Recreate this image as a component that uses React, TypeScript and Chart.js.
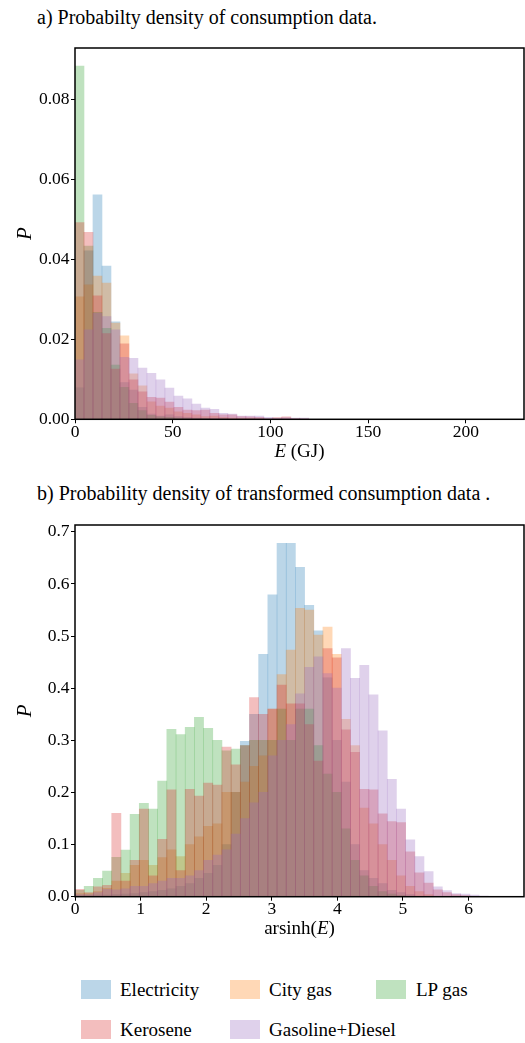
import React, { useEffect, useRef } from "react";
import { Chart, registerables } from "chart.js";

Chart.register(...registerables);

const FONT = "'Liberation Serif', 'Times New Roman', Times, serif";

const SERIES_NAMES = ["Electricity", "City gas", "LP gas", "Kerosene", "Gasoline+Diesel"];
const SERIES_RGB = ["31,119,180", "255,127,14", "44,160,44", "214,39,40", "148,103,189"];

// ---- a) consumption E (GJ), histogram bins of 4.6 GJ starting at 0
const A_BIN_WIDTH = 4.6;
const A_X_MAX = 229.7;
const A_Y_MAX = 0.093;
const A_X_TICKS = [0, 50, 100, 150, 200];
const A_Y_TICKS = [0, 0.02, 0.04, 0.06, 0.08];
const A_ELECTRICITY = [0.0079, 0.0422, 0.0562, 0.0384, 0.0244, 0.0092, 0.0073, 0.003, 0.0013, 0.0008, 0.0011, 0.0007, 0.0005, 0.0003, 0.0002, 0.0002, 0.0001, 0, 0, 0, 0, 0, 0, 0, 0, 0];
const A_CITY_GAS = [0.0307, 0.0337, 0.0359, 0.0341, 0.0241, 0.0209, 0.0114, 0.0084, 0.0044, 0.0033, 0.0028, 0.0019, 0.0015, 0.0011, 0.0007, 0.0008, 0.0004, 0.0003, 0.0002, 0.0002, 0.0001, 0, 0, 0, 0, 0];
const A_LP_GAS = [0.0885, 0.0434, 0.0268, 0.0228, 0.0136, 0.008, 0.004, 0.0022, 0.001, 0.0006, 0.0005, 0.0003, 0.0002, 0.0001, 0.0001, 0, 0, 0, 0, 0, 0, 0, 0, 0, 0, 0];
const A_KEROSENE = [0.0493, 0.0468, 0.0309, 0.0215, 0.0126, 0.0189, 0.0099, 0.0069, 0.0055, 0.0053, 0.0043, 0.003, 0.0023, 0.0022, 0.0023, 0.0015, 0.0011, 0.0011, 0.0007, 0.0006, 0.0005, 0.0002, 0.0004, 0.0006, 0.0002, 0.0001];
const A_GASOLINE = [0.0149, 0.0224, 0.0266, 0.0257, 0.0224, 0.0155, 0.0153, 0.0128, 0.0115, 0.0099, 0.0078, 0.0058, 0.0051, 0.0038, 0.0028, 0.0025, 0.0015, 0.0013, 0.0008, 0.0008, 0.0008, 0.0005, 0.0003, 0.0004, 0.0003, 0.0003];

// ---- b) arsinh(E), histogram bins of 0.14 starting at 0
const B_BIN_WIDTH = 0.14;
const B_X_MAX = 6.845;
const B_Y_MAX = 0.713;
const B_X_TICKS = [0, 1, 2, 3, 4, 5, 6];
const B_Y_TICKS = [0, 0.1, 0.2, 0.3, 0.4, 0.5, 0.6, 0.7];
const B_ELECTRICITY = [0.002, 0.002, 0.003, 0.003, 0.004, 0.005, 0.006, 0.008, 0.01, 0.012, 0.015, 0.02, 0.025, 0.035, 0.045, 0.06, 0.1, 0.2, 0.298, 0.35, 0.465, 0.579, 0.678, 0.678, 0.632, 0.559, 0.51, 0.42, 0.3, 0.22, 0.1, 0.05, 0.035, 0.025, 0.012, 0.008, 0.004, 0, 0, 0, 0, 0, 0, 0, 0];
const B_CITY_GAS = [0.006, 0.006, 0.01, 0.016, 0.03, 0.045, 0.06, 0.07, 0.06, 0.075, 0.09, 0.077, 0.1, 0.115, 0.135, 0.14, 0.2, 0.2, 0.22, 0.25, 0.27, 0.36, 0.426, 0.473, 0.553, 0.55, 0.502, 0.517, 0.465, 0.34, 0.29, 0.17, 0.14, 0.1, 0.07, 0.04, 0.02, 0.01, 0.004, 0, 0, 0, 0, 0, 0];
const B_LP_GAS = [0.012, 0.02, 0.035, 0.049, 0.0755, 0.0895, 0.158, 0.179, 0.168, 0.222, 0.321, 0.311, 0.325, 0.344, 0.323, 0.3, 0.28, 0.283, 0.29, 0.3, 0.3, 0.3, 0.36, 0.3, 0.36, 0.36, 0.29, 0.235, 0.2, 0.13, 0.07, 0.04, 0.02, 0.01, 0.005, 0.002, 0, 0, 0, 0, 0, 0, 0, 0, 0];
const B_KEROSENE = [0.014, 0.008, 0.019, 0.022, 0.16, 0.03, 0.07, 0.168, 0.04, 0.11, 0.205, 0.05, 0.206, 0.193, 0.218, 0.214, 0.287, 0.253, 0.29, 0.382, 0.35, 0.36, 0.406, 0.37, 0.37, 0.33, 0.26, 0.476, 0.458, 0.32, 0.277, 0.206, 0.205, 0.159, 0.144, 0.142, 0.086, 0.046, 0.026, 0.013, 0.008, 0.004, 0.002, 0, 0];
const B_GASOLINE = [0.004, 0.004, 0.008, 0.014, 0.013, 0.015, 0.02, 0.02, 0.025, 0.03, 0.035, 0.035, 0.04, 0.05, 0.07, 0.08, 0.09, 0.12, 0.15, 0.18, 0.2, 0.27, 0.3, 0.33, 0.389, 0.44, 0.46, 0.428, 0.4, 0.476, 0.419, 0.444, 0.387, 0.318, 0.225, 0.168, 0.109, 0.077, 0.048, 0.019, 0.0115, 0.006, 0.005, 0.003, 0.001];

const A_SERIES = [A_ELECTRICITY, A_CITY_GAS, A_LP_GAS, A_KEROSENE, A_GASOLINE];
const B_SERIES = [B_ELECTRICITY, B_CITY_GAS, B_LP_GAS, B_KEROSENE, B_GASOLINE];

function buildDatasets(series: number[][], binWidth: number) {
  return series.map((vals, si) => ({
    type: "bar" as const,
    label: SERIES_NAMES[si],
    data: vals.map((v, i) => ({ x: (i + 0.5) * binWidth, y: v })),
    backgroundColor: `rgba(${SERIES_RGB[si]},0.3)`,
    borderWidth: 0,
    grouped: false,
    barPercentage: 1,
    categoryPercentage: 1,
    order: series.length - si,
  }));
}

const framePlugin = {
  id: "frame",
  afterDraw(chart: any, _args: any, opts: any) {
    const { ctx, chartArea } = chart;
    const { left, top, right, bottom } = chartArea;
    ctx.save();
    ctx.strokeStyle = "#000";
    ctx.lineWidth = 1.5;
    ctx.strokeRect(left, top, right - left, bottom - top);
    const parts: { text: string; italic: boolean }[] = opts.xlabel || [];
    const size = opts.size || 18.5;
    let total = 0;
    const widths = parts.map((p) => {
      ctx.font = `${p.italic ? "italic " : ""}${size}px ${FONT}`;
      const w = ctx.measureText(p.text).width;
      total += w;
      return w;
    });
    let x = (left + right) / 2 - total / 2;
    const y = bottom + opts.offset;
    ctx.fillStyle = "#000";
    ctx.textBaseline = "alphabetic";
    ctx.textAlign = "left";
    parts.forEach((p, i) => {
      ctx.font = `${p.italic ? "italic " : ""}${size}px ${FONT}`;
      ctx.fillText(p.text, x, y);
      x += widths[i];
    });
    ctx.restore();
  },
};

function makeConfig(p: {
  series: number[][];
  binWidth: number;
  xMax: number;
  yMax: number;
  xTicks: number[];
  yTicks: number[];
  yDigits: number;
  padTop: number;
  xAxisHeight: number;
  xlabel: { text: string; italic: boolean }[];
  labelOffset: number;
}): any {
  return {
    type: "bar",
    data: { datasets: buildDatasets(p.series, p.binWidth) },
    plugins: [framePlugin],
    options: {
      animation: false,
      responsive: false,
      maintainAspectRatio: false,
      events: [],
      layout: { padding: { top: p.padTop, right: 1, left: 0, bottom: 0 } },
      plugins: {
        legend: { display: false },
        tooltip: { enabled: false },
        title: { display: false },
        frame: { xlabel: p.xlabel, offset: p.labelOffset, size: 19 },
      },
      scales: {
        x: {
          type: "linear",
          min: 0,
          max: p.xMax,
          offset: false,
          afterBuildTicks: (s: any) => {
            s.ticks = p.xTicks.map((v) => ({ value: v }));
          },
          afterFit: (s: any) => {
            s.height = p.xAxisHeight;
          },
          border: { display: false },
          grid: {
            offset: false,
            drawOnChartArea: false,
            drawTicks: true,
            tickLength: 4,
            color: "#000",
            lineWidth: 1,
          },
          ticks: {
            autoSkip: false,
            maxRotation: 0,
            minRotation: 0,
            padding: 0,
            color: "#000",
            font: { family: FONT, size: 17.5, lineHeight: 1 },
            callback: (v: any) => String(v),
          },
        },
        y: {
          type: "linear",
          min: 0,
          max: p.yMax,
          afterBuildTicks: (s: any) => {
            s.ticks = p.yTicks.map((v) => ({ value: v }));
          },
          afterFit: (s: any) => {
            s.width = 75;
          },
          border: { display: false },
          grid: {
            offset: false,
            drawOnChartArea: false,
            drawTicks: true,
            tickLength: 4,
            color: "#000",
            lineWidth: 1,
          },
          title: {
            display: true,
            text: "P",
            color: "#000",
            font: { family: FONT, size: 21, style: "italic", lineHeight: 1.2 },
            padding: { top: 13, bottom: 0 },
          },
          ticks: {
            autoSkip: false,
            padding: 1.5,
            color: "#000",
            font: { family: FONT, size: 17.5, lineHeight: 1.2 },
            callback: (v: any) => Number(v).toFixed(p.yDigits),
          },
        },
      },
    },
  };
}

const titleStyle: React.CSSProperties = {
  position: "absolute",
  left: 37,
  fontFamily: FONT,
  fontSize: 20,
  lineHeight: "20px",
  color: "#000",
  whiteSpace: "nowrap",
};

const legendText: React.CSSProperties = {
  position: "absolute",
  fontFamily: FONT,
  fontSize: 19,
  lineHeight: "19px",
  color: "#000",
  whiteSpace: "nowrap",
};

const LEGEND_POS = [
  { px: 81, tx: 120, top: 980 },
  { px: 230, tx: 269, top: 980 },
  { px: 376, tx: 416, top: 980 },
  { px: 81, tx: 120, top: 1020 },
  { px: 230, tx: 269, top: 1020 },
];

export default function App() {
  const refA = useRef<HTMLCanvasElement | null>(null);
  const refB = useRef<HTMLCanvasElement | null>(null);

  useEffect(() => {
    const chartA = new Chart(
      refA.current as HTMLCanvasElement,
      makeConfig({
        series: A_SERIES,
        binWidth: A_BIN_WIDTH,
        xMax: A_X_MAX,
        yMax: A_Y_MAX,
        xTicks: A_X_TICKS,
        yTicks: A_Y_TICKS,
        yDigits: 2,
        padTop: 18,
        xAxisHeight: 50.7,
        xlabel: [
          { text: "E", italic: true },
          { text: " (GJ)", italic: false },
        ],
        labelOffset: 37.7,
      })
    );
    const chartB = new Chart(
      refB.current as HTMLCanvasElement,
      makeConfig({
        series: B_SERIES,
        binWidth: B_BIN_WIDTH,
        xMax: B_X_MAX,
        yMax: B_Y_MAX,
        xTicks: B_X_TICKS,
        yTicks: B_Y_TICKS,
        yDigits: 1,
        padTop: 20,
        xAxisHeight: 48.3,
        xlabel: [
          { text: "arsinh(", italic: false },
          { text: "E", italic: true },
          { text: ")", italic: false },
        ],
        labelOffset: 37.3,
      })
    );
    return () => {
      chartA.destroy();
      chartB.destroy();
    };
  }, []);

  return (
    <div
      style={{
        position: "fixed",
        left: 0,
        top: 0,
        width: 525,
        height: 1043,
        background: "#fff",
        overflow: "hidden",
      }}
    >
      <div style={{ ...titleStyle, top: 7 }}>a) Probabilty density of consumption data.</div>
      <canvas
        ref={refA}
        width={525}
        height={440}
        style={{ position: "absolute", left: 0, top: 30, width: 525, height: 440 }}
      />
      <div style={{ ...titleStyle, top: 483 }}>b) Probability density of transformed consumption data .</div>
      <canvas
        ref={refB}
        width={525}
        height={440}
        style={{ position: "absolute", left: 0, top: 505, width: 525, height: 440 }}
      />
      {SERIES_NAMES.map((name, i) => (
        <React.Fragment key={name}>
          <div
            style={{
              position: "absolute",
              left: LEGEND_POS[i].px,
              top: LEGEND_POS[i].top,
              width: 30,
              height: 19,
              background: `rgba(${SERIES_RGB[i]},0.3)`,
            }}
          />
          <div style={{ ...legendText, left: LEGEND_POS[i].tx, top: LEGEND_POS[i].top }}>{name}</div>
        </React.Fragment>
      ))}
    </div>
  );
}
